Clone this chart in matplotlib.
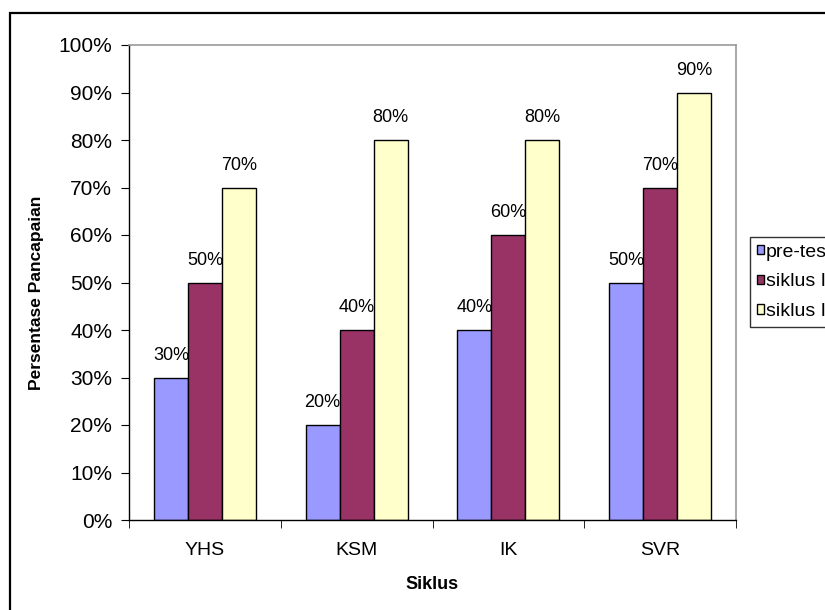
import matplotlib
matplotlib.use("Agg")
import matplotlib.pyplot as plt
from matplotlib.patches import Rectangle
from matplotlib.ticker import FuncFormatter, MultipleLocator

plt.rcParams['font.family'] = ['Liberation Sans', 'DejaVu Sans']

categories = ["YHS", "KSM", "IK", "SVR"]
series_names = ["pre-test", "siklus I", "siklus II"]
pre_test = [30, 20, 40, 50]
siklus_1 = [50, 40, 60, 70]
siklus_2 = [70, 80, 80, 90]
series_values = [pre_test, siklus_1, siklus_2]
colors = ["#9999FF", "#993366", "#FFFFCC"]

W, H = 825, 610
fig = plt.figure(figsize=(W / 100, H / 100), dpi=100)

# outer chart frame
fig.patches.append(Rectangle((10 / W, 0 - 0.01), 1.1, (H - 13) / H + 0.01,
                             transform=fig.transFigure, fill=False,
                             edgecolor="black", linewidth=1.6, zorder=0))

ax = fig.add_axes([129 / W, (H - 520) / H, (736 - 129) / W, (520 - 45) / H])

bar_w = 34 / 152
for j, (name, vals, col) in enumerate(zip(series_names, series_values, colors)):
    xs = [i + (j - 1) * bar_w for i in range(len(categories))]
    ax.bar(xs, vals, width=bar_w, color=col, edgecolor="black",
           linewidth=1.0, label=name, zorder=2)
    for x, v in zip(xs, vals):
        ax.annotate(f"{v}%", (x, v), xytext=(0, 10), textcoords="offset points",
                    ha="center", va="bottom", fontsize=13)

ax.set_xlim(-0.5, len(categories) - 0.5)
ax.set_ylim(0, 100)
ax.yaxis.set_major_locator(MultipleLocator(10))
ax.yaxis.set_major_formatter(FuncFormatter(lambda v, p: f"{int(v)}%"))

ax.set_xticks(range(len(categories)))
ax.set_xticklabels(categories, fontsize=14)
ax.set_xticks([i - 0.5 for i in range(len(categories) + 1)], minor=True)
ax.tick_params(axis="x", which="major", length=0, pad=16)
ax.tick_params(axis="x", which="minor", length=6, direction="out", color="black")
ax.tick_params(axis="y", labelsize=15, length=6, direction="out", pad=6)

for s in ("top", "right"):
    ax.spines[s].set_color("#999999")
    ax.spines[s].set_linewidth(1.2)
for s in ("left", "bottom"):
    ax.spines[s].set_color("black")
    ax.spines[s].set_linewidth(1.0)

ax.set_xlabel("Siklus", fontsize=13, fontweight="bold", labelpad=12)
ax.set_ylabel("Persentase Pancapaian", fontsize=12.5, fontweight="bold")
ax.yaxis.set_label_coords((37 - 129) / (736 - 129), (520 - 293) / (520 - 45))
ax.yaxis.label.set_va("center")

leg = fig.legend(loc="upper left", bbox_to_anchor=(750 / W, 1 - 237 / H),
                 fontsize=14, frameon=True, fancybox=False, edgecolor="black",
                 handlelength=0.36, handleheight=0.36, handletextpad=0.1,
                 labelspacing=0.65, borderpad=0.35, borderaxespad=0)
leg.get_frame().set_linewidth(1.0)

fig.savefig("out.png", dpi=100)
